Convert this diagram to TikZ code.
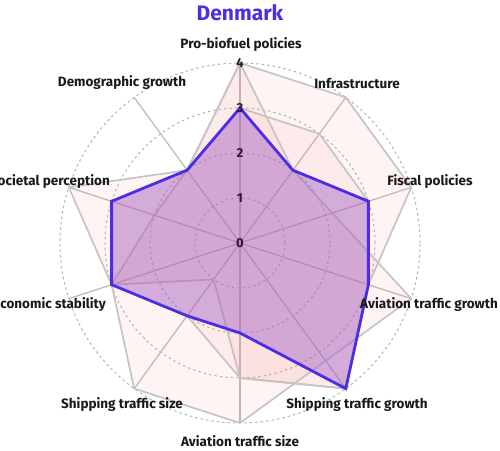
\documentclass[tikz,border=0pt]{standalone}
\usepackage{fontspec}
\setmainfont{Fira Sans}
\definecolor{dkblue}{RGB}{75,45,230}
\definecolor{dkfill}{RGB}{150,80,195}
\definecolor{pinkfill}{RGB}{250,150,150}
\definecolor{ringgray}{RGB}{180,180,180}
\definecolor{spokegray}{RGB}{185,185,185}
\definecolor{polygray}{RGB}{198,196,196}
\definecolor{lbltext}{RGB}{25,25,25}
\definecolor{ticktext}{RGB}{40,25,50}
\begin{document}
\begin{tikzpicture}[x=1pt,y=1pt,
  gridring/.style={draw=ringgray,line width=1pt,dash pattern=on 2.5pt off 3pt},
  spoke/.style={draw=spokegray,line width=1.2pt},
  otherpoly/.style={draw=polygray,line width=1.7pt,fill=pinkfill,fill opacity=0.1,line join=round},
  dkpoly/.style={draw=dkblue,line width=2.8pt,fill=dkfill,fill opacity=0.4,line join=miter},
  lbl/.style={font=\fontsize{13.5}{16}\selectfont\bfseries,text=lbltext,inner sep=0pt},
  ticklbl/.style={font=\fontsize{13}{15}\selectfont\bfseries,text=ticktext,inner sep=0pt},
  ttl/.style={font=\fontsize{21}{25}\selectfont\bfseries,text=dkblue,inner sep=0pt}]
\useasboundingbox (0,0) rectangle (500,450);
\fill[white] (0,0) rectangle (500,450);
\begin{scope}[shift={(240,207)}]
  % grid rings
  \foreach \r in {45,90,135,180} {\draw[gridring] (0,0) circle[radius=\r];}
  % spokes
  \foreach \a in {90,54,18,-18,-54,-90,-126,-162,162,126} {\draw[spoke] (0,0) -- (\a:180);}
  % other series (grey)
  \path[otherpoly] (90:180) -- (54:180) -- (18:180) -- (-18:135) -- (-54:180) -- (-90:135) -- (-126:90) -- (-162:135) -- (162:135) -- (126:90) -- cycle;
  \path[otherpoly] (90:135) -- (54:135) -- (18:135) -- (-18:135) -- (-54:180) -- (-90:135) -- (-126:45) -- (-162:135) -- (162:90) -- (126:90) -- cycle;
  \path[otherpoly] (90:180) -- (54:90) -- (-18:180) -- (-90:180) -- (-126:180) -- (-162:135) -- (162:180) -- (126:90) -- cycle;
  % Denmark
  \coordinate (d0) at (90:135);
  \coordinate (d1) at (54:90);
  \coordinate (d2) at (18:135);
  \coordinate (d3) at (-18:135);
  \coordinate (d4) at (-54:180);
  \coordinate (d5) at (-90:90);
  \coordinate (d6) at (-126:90);
  \coordinate (d7) at (-162:135);
  \coordinate (d8) at (162:135);
  \coordinate (d9) at (126:90);
  \path[dkpoly] (d0) -- (d1) -- (d2) -- (d3) -- (d4) -- (d5) -- (d6) -- (d7) -- (d8) -- (d9) -- cycle;
  % tick labels
  \node[ticklbl] (t0) at (0,0) {0};
  \node[ticklbl] (t1) at (0,45) {1};
  \node[ticklbl] (t2) at (0,90) {2};
  \node[ticklbl] (t3) at (0,135) {3};
  \node[ticklbl] (t4) at (0,180) {4};
\end{scope}
% axis labels
\node[lbl] (l0) at (241,405) {Pro-biofuel policies};
\node[lbl] (l1) at (357,367) {Infrastructure};
\node[lbl] (l2) at (430,268) {Fiscal policies};
\node[lbl] (l3) at (429,145) {Aviation traffic growth};
\node[lbl] (l4) at (357,45) {Shipping traffic growth};
\node[lbl] (l5) at (240,9) {Aviation traffic size};
\node[lbl] (l6) at (122,45) {Shipping traffic size};
\node[lbl,anchor=east] (l7) at (106,145) {Economic stability};
\node[lbl,anchor=east] (l8) at (110,268) {Societal perception};
\node[lbl] (l9) at (122,367) {Demographic growth};
\node[ttl] (title) at (240,437) {Denmark};
\end{tikzpicture}
\end{document}
